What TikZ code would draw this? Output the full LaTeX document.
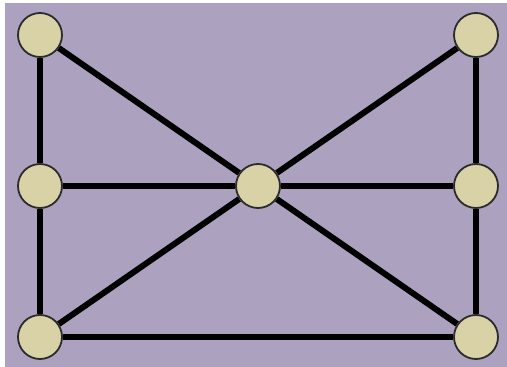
\documentclass[tikz,border=0pt]{standalone}
\usepackage{xcolor}
\usepackage{tikz}
\usetikzlibrary{backgrounds}
\definecolor{gback}{HTML}{ACA2C0}
\definecolor{gnode}{HTML}{D8D2A6}
\definecolor{gline}{HTML}{2B2B2B}

\begin{document}
\begin{tikzpicture}[x=1pt,y=-1pt,
  vert/.style={circle,fill=gnode,draw=gline,line width=1.8pt,minimum size=44pt,inner sep=0pt},
  edge/.style={line width=6pt,black}]
  \useasboundingbox (0,0) rectangle (507,367);
  % vertices
  \node[vert] (tl) at (40,35) {};
  \node[vert] (tr) at (476,35) {};
  \node[vert] (ml) at (40,186) {};
  \node[vert] (c) at (258,186) {};
  \node[vert] (mr) at (476,186) {};
  \node[vert] (bl) at (40,337) {};
  \node[vert] (br) at (476,337) {};
  % background and edges behind the vertices
  \begin{scope}[on background layer]
    \fill[gback] (5,3) rectangle (507,367);
    \foreach \a/\b in {tl/ml,ml/bl,tl/c,tr/c,tr/mr,mr/br,ml/c,c/mr,bl/c,c/br,bl/br}
      \draw[edge] (\a) -- (\b);
  \end{scope}
\end{tikzpicture}
\end{document}
